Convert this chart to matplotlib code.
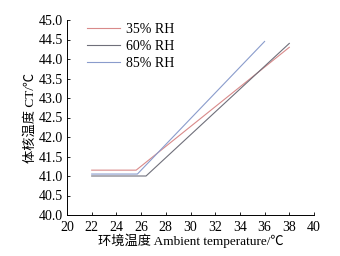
import numpy as np
import matplotlib
matplotlib.use("Agg")
import matplotlib.pyplot as plt

plt.rcParams['font.family'] = ['Liberation Serif', 'Noto Sans CJK SC']

# breakpoints of each curve (ambient temp, core temp)
x_35 = [22, 25.6, 38]
y_35 = [41.15, 41.15, 44.3]
x_60 = [22, 26.4, 38]
y_60 = [41.0, 41.0, 44.4]
x_85 = [22, 25.7, 36]
y_85 = [41.05, 41.05, 44.45]

labels = ['35% RH', '60% RH', '85% RH']
colors = ['#d98a8a', '#6f6f7a', '#8a9ccc']

fig = plt.figure(figsize=(3.4, 2.56), dpi=100)
ax = fig.add_axes([67/340, 1 - 215/256, (314-67)/340, (215-20)/256])

ax.plot(x_35, y_35, color=colors[0], lw=0.8, label=labels[0])
ax.plot(x_60, y_60, color=colors[1], lw=0.8, label=labels[1])
ax.plot(x_85, y_85, color=colors[2], lw=0.8, label=labels[2])

ax.set_xlim(20, 40)
ax.set_ylim(40, 45)
ax.set_xticks(np.arange(20, 41, 2))
ax.set_yticks(np.arange(40, 45.01, 0.5))
ax.set_yticklabels([f"{v:.1f}" for v in np.arange(40, 45.01, 0.5)])
ax.tick_params(direction='in', length=2, width=0.6, labelsize=10)
ax.tick_params(axis='x', pad=4)
ax.tick_params(axis='y', pad=3)
for s in ['top', 'right']:
    ax.spines[s].set_visible(False)
for s in ['left', 'bottom']:
    ax.spines[s].set_linewidth(0.7)

ax.set_xlabel("环境温度 Ambient temperature/℃", fontsize=9.5, labelpad=0)
ax.set_ylabel("体核温度 CT/℃", fontsize=9.5, labelpad=1)

ax.legend(loc='upper left', bbox_to_anchor=(0.03, 1.05), frameon=False,
          fontsize=10, handlelength=2.4, handletextpad=0.4, labelspacing=0.3)

fig.savefig("out.png", dpi=100)
